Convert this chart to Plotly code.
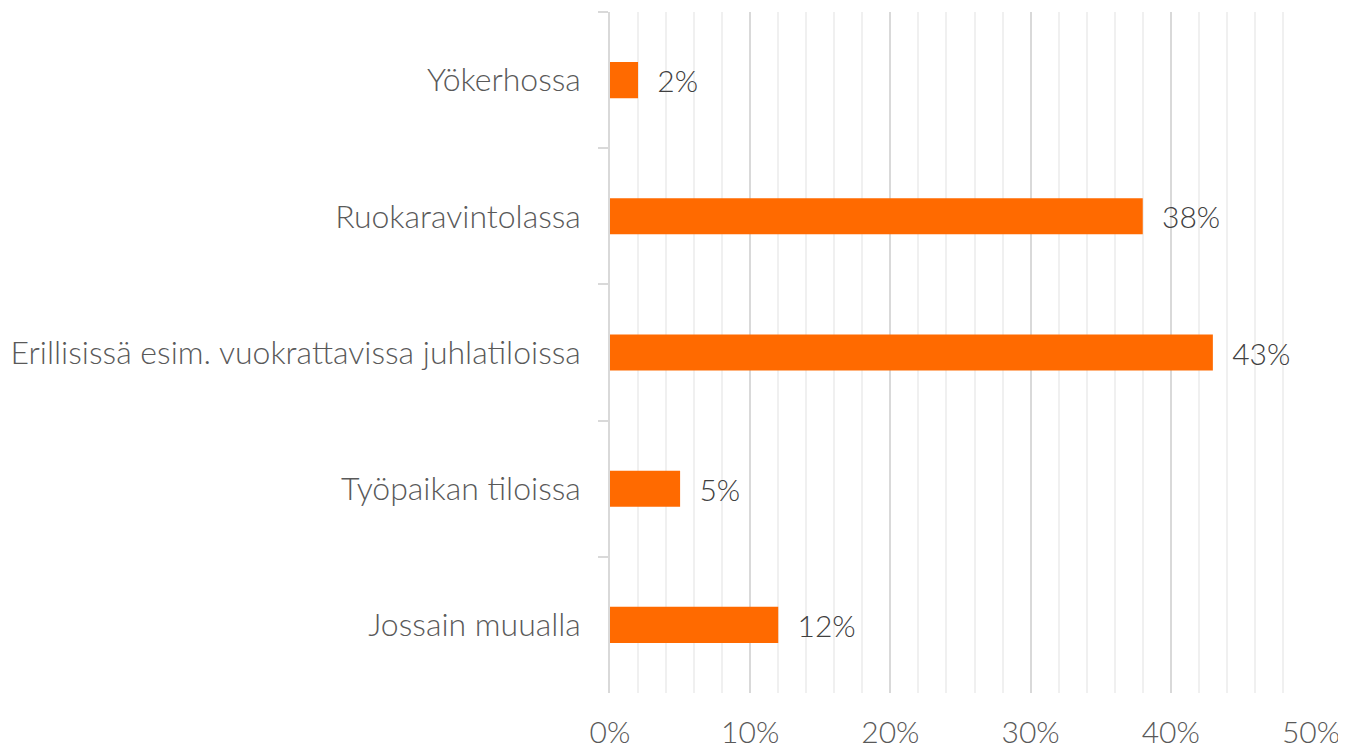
import plotly.graph_objects as go

categories = ['Yökerhossa', 'Ruokaravintolassa', 'Erillisissä esim. vuokrattavissa juhlatiloissa',
              'Työpaikan tiloissa', 'Jossain muualla']
shares = [0.02, 0.38, 0.43, 0.05, 0.12]
tick_vals = [0, 0.1, 0.2, 0.3, 0.4, 0.5]
tick_text = ['0%', '10%', '20%', '30%', '40%', '50%']

fig = go.Figure()

fig.add_trace(go.Bar(
    x=shares,
    y=categories,
    orientation='h',
    width=0.265,
    marker=dict(color='#ff6a00', line=dict(width=0)),
    texttemplate='  %{x:.0%}',
    textposition='outside',
    textfont=dict(family='Lato', size=30, color='#404040', weight=300),
    cliponaxis=False
))

# page body has an 8px margin, so the margins are shifted to compensate
fig.update_layout(
    template='plotly_white',
    width=1346,
    height=749,
    margin=dict(l=602, r=43, t=4, b=64, autoexpand=False),
    showlegend=False,
    plot_bgcolor='white',
    paper_bgcolor='white',
    font=dict(family='Lato', size=30, color='#595959', weight=300),
    xaxis=dict(
        range=[0, 0.5],
        tickvals=tick_vals,
        ticktext=tick_text,
        showgrid=True,
        gridcolor='#d9d9d9',
        gridwidth=1.5,
        minor=dict(dtick=0.02, showgrid=True, gridcolor='#f0f0f0', gridwidth=1.5),
        zeroline=False,
        showline=False,
        ticks='',
        automargin=False,
        tickfont=dict(family='Lato', size=30, color='#595959', weight=300),
        ticklabelstandoff=19
    ),
    yaxis=dict(
        autorange='reversed',
        automargin=False,
        showgrid=False,
        showline=True,
        linecolor='#d9d9d9',
        linewidth=1.5,
        ticks='outside',
        tickson='boundaries',
        ticklen=10,
        tickcolor='#d9d9d9',
        tickwidth=1.5,
        ticklabelstandoff=21,
        tickfont=dict(family='Lato', size=32, color='#595959', weight=300)
    )
)

fig.write_html("out.html")
